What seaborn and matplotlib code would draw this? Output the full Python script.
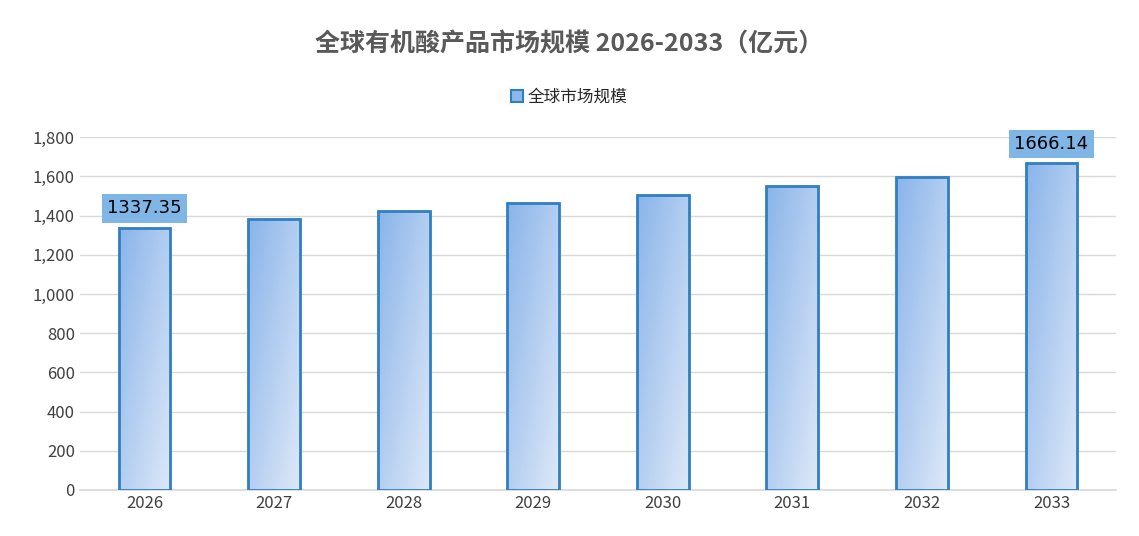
import matplotlib
matplotlib.use("Agg")
import matplotlib.pyplot as plt
import seaborn as sns
import numpy as np
import pandas as pd
from matplotlib.colors import LinearSegmentedColormap
from matplotlib.patches import Patch

years = ["2026", "2027", "2028", "2029", "2030", "2031", "2032", "2033"]
values = [1337.35, 1382, 1423, 1464, 1504, 1550, 1596, 1666.14]
title = "全球有机酸产品市场规模 2026-2033（亿元）"
series_name = "全球市场规模"

sns.set_theme(style="white")
plt.rcParams['font.family'] = ['Noto Sans CJK SC', 'DejaVu Sans']

fig = plt.figure(figsize=(11.39, 5.36), dpi=100)
ax = fig.add_axes([0.07, 0.086, 0.91, 0.658])
df = pd.DataFrame({"year": years, "value": values})
sns.barplot(data=df, x="year", y="value", ax=ax, width=0.4,
            color="#8fb8ea", edgecolor="#2f7fc1", linewidth=2, zorder=3)

cmap = LinearSegmentedColormap.from_list("g", ["#8ab4ea", "#dde8f8"])
grad = np.add.outer(np.linspace(0, 1, 50), np.linspace(0, 1, 50)) / 2
for p in ax.patches:
    x0, y0 = p.get_x(), p.get_y()
    w, h = p.get_width(), p.get_height()
    im = ax.imshow(grad, cmap=cmap, extent=[x0, x0 + w, y0, y0 + h],
                   aspect="auto", zorder=3.5, origin="upper")
    im.set_clip_path(p)
    p.set_facecolor("none")
    p.set_zorder(4)

ax.set_xlim(-0.5, len(years) - 0.5)
ax.set_ylim(0, 1800)
ax.set_yticks(np.arange(0, 1801, 200))
ax.set_yticklabels([f"{v:,}" for v in range(0, 1801, 200)], fontsize=12, color="#404040")
ax.tick_params(axis="x", labelsize=12, colors="#404040", length=0)
ax.tick_params(axis="y", length=0)
ax.set_xlabel("")
ax.set_ylabel("")
ax.yaxis.grid(True, color="#d9d9d9", linewidth=1, zorder=0)
for s in ["top", "right", "left"]:
    ax.spines[s].set_visible(False)
ax.spines["bottom"].set_color("#d9d9d9")

for i in [0, len(values) - 1]:
    ax.annotate(f"{values[i]:.2f}", (i, values[i]), xytext=(0, 14),
                textcoords="offset points", ha="center", va="center",
                fontsize=13, color="black", family="DejaVu Sans",
                bbox=dict(boxstyle="square,pad=0.3", fc="#7fb6e6", ec="none"),
                zorder=6, annotation_clip=False)

fig.text(0.5, 0.918, title, ha="center", va="center", fontsize=18,
         fontweight="bold", color="#595959")
fig.legend(handles=[Patch(facecolor="#8fb8ea", edgecolor="#2f7fc1", linewidth=1.5, label=series_name)],
           loc="center", bbox_to_anchor=(0.5, 0.818), frameon=False, fontsize=12,
           handlelength=0.7, handleheight=0.7, handletextpad=0.3)
fig.savefig("out.png", dpi=100)
